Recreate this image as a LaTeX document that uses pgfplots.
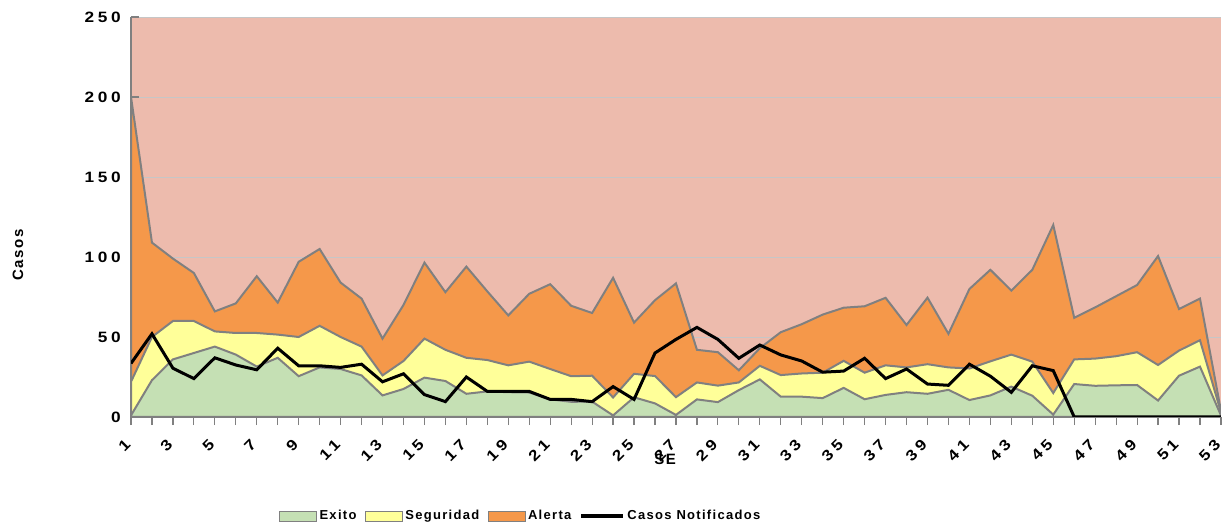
\documentclass[border=0pt]{standalone}
\usepackage{fontspec}
\setmainfont{Liberation Sans}
\newfontfamily\tickfont{Liberation Sans}[LetterSpace=25, FakeStretch=1.15]
\newfontfamily\legfont{Liberation Sans}[LetterSpace=10]
\usepackage{pgfplots}
\usepackage{pgfplotstable}
\pgfplotsset{compat=1.18}
\definecolor{pinkbg}{RGB}{237,187,173}
\definecolor{alertacol}{RGB}{245,152,74}
\definecolor{segcol}{RGB}{255,255,153}
\definecolor{exitocol}{RGB}{197,224,180}
\definecolor{outl}{RGB}{128,128,128}
\pgfplotsset{
  boxleg/.style={legend image code/.code={\draw[##1, draw=outl, line width=0.8bp] (0bp,-5bp) rectangle (37bp,5bp);}},
  lineleg/.style={legend image code/.code={\draw[##1] (0bp,0bp) -- (42bp,0bp);}}
}
\pgfplotstableread{
w  ex    seg   al     casos
1  1     22    200    33.5
2  23    50    109    52
3  36    60    99     30.5
4  40    60    90     24
5  44    53.5  66     37
6  39    52.5  71     32.5
7  31.5  52.5  88     29.5
8  37    51.5  71.5   43
9  25.5  50    97     32
10 31    57    105    32
11 30    50    84     31
12 26    44    74     33
13 13.5  26    49     22
14 17.5  35    70     27
15 24.6  49    96.5   14
16 22.5  42    78     9.6
17 14.5  37    94     25
18 16    35.6  78.5   16
19 15.5  32.3  63.5   16
20 15.3  34.6  77     16
21 11    30    83     11
22 9.5   25.5  69.5   11
23 9.6   25.8  65     9.6
24 1     12.2  87     19
25 12.3  27    59     11
26 8.5   25.6  73     40
27 1.3   12.4  83.5   48.5
28 11    21.6  42     56
29 9.3   19.6  40.5   48.5
30 16.8  21.6  29.2   36.7
31 23.5  32    43     45
32 12.7  26.2  53     38.8
33 12.7  27.2  58     35
34 11.8  27.7  64     28
35 18.2  35.1  68.3   28.7
36 11.1  27.7  69.2   36.7
37 13.8  32.3  74.5   24
38 15.5  31    57.5   30
39 14.5  33    74.6   20.6
40 17    31    52     19.8
41 10.6  30.3  80     33
42 13.5  34.8  92     25.5
43 19    39    79     15.4
44 13.3  34.6  92     32
45 1.5   15    120    29
46 20.6  36    62     0
47 19.5  36.5  68.5   0
48 19.8  38    75.5   0
49 20    40.5  82.5   0
50 10.3  32.5  100.6  0
51 25.8  41.5  67.5   0
52 31.5  48    74     0
53 1     3     4      0
}\data
\begin{document}
\begin{tikzpicture}
\useasboundingbox (0,0) rectangle (1225bp,527bp);
\begin{axis}[
  at={(131bp,110bp)}, anchor=south west,
  width=1090bp, height=400bp, scale only axis,
  xmin=1, xmax=53, ymin=0, ymax=250,
  axis background/.style={fill=pinkbg},
  axis x line*=bottom, axis y line*=left,
  axis line style={outl, line width=2bp},
  ymajorgrids, grid style={gray!45, line width=0.8bp},
  xtick={1,3,...,53}, minor xtick={2,4,...,52},
  ytick={0,50,...,250},
  tick align=outside,
  major tick length=8bp, minor tick length=8bp,
  xtick style={outl, line width=1.2bp},
  minor tick style={outl, line width=1.2bp},
  ytick style={outl, line width=1.2bp, xshift=8bp},
  xticklabel style={xshift=-3bp, yshift=-17bp, rotate=45, anchor=east, inner sep=0pt, font=\tickfont\bfseries\fontsize{15bp}{15bp}\selectfont},
  yticklabel style={font=\tickfont\bfseries\fontsize{15bp}{15bp}\selectfont, anchor=east, inner sep=0pt, xshift=-2bp},
  /pgf/number format/assume math mode=true,
  xlabel={SE}, ylabel={Casos},
  xlabel style={at={(axis description cs:0.49,-0.105)}, anchor=center, font=\legfont\bfseries\fontsize{15bp}{15bp}\selectfont},
  ylabel style={at={(axis description cs:-0.1037,0.405)}, anchor=center, rotate=0, font=\legfont\bfseries\fontsize{15bp}{15bp}\selectfont},
  legend style={at={(axis description cs:0.1358,-0.2475)}, anchor=west, draw=none, fill=none, inner sep=0pt,
    font=\legfont\bfseries\fontsize{13bp}{13bp}\selectfont,
    nodes={inner sep=2.5bp},
    /tikz/every even column/.append style={column sep=6bp}},
  legend columns=4,
]
\addplot[fill=alertacol, draw=outl, line width=2bp, forget plot] table[x=w, y=al] {\data} \closedcycle;
\addplot[fill=segcol, draw=outl, line width=2bp, forget plot] table[x=w, y=seg] {\data} \closedcycle;
\addplot[fill=exitocol, draw=outl, line width=2bp, forget plot] table[x=w, y=ex] {\data} \closedcycle;
\addplot[black, line width=3bp, forget plot] table[x=w, y=casos] {\data};
\addlegendimage{boxleg, fill=exitocol}
\addlegendentry{Exito}
\addlegendimage{boxleg, fill=segcol}
\addlegendentry{Seguridad}
\addlegendimage{boxleg, fill=alertacol}
\addlegendentry{Alerta}
\addlegendimage{lineleg, black, line width=3bp}
\addlegendentry{Casos Notificados}
\end{axis}
\end{tikzpicture}
\end{document}
